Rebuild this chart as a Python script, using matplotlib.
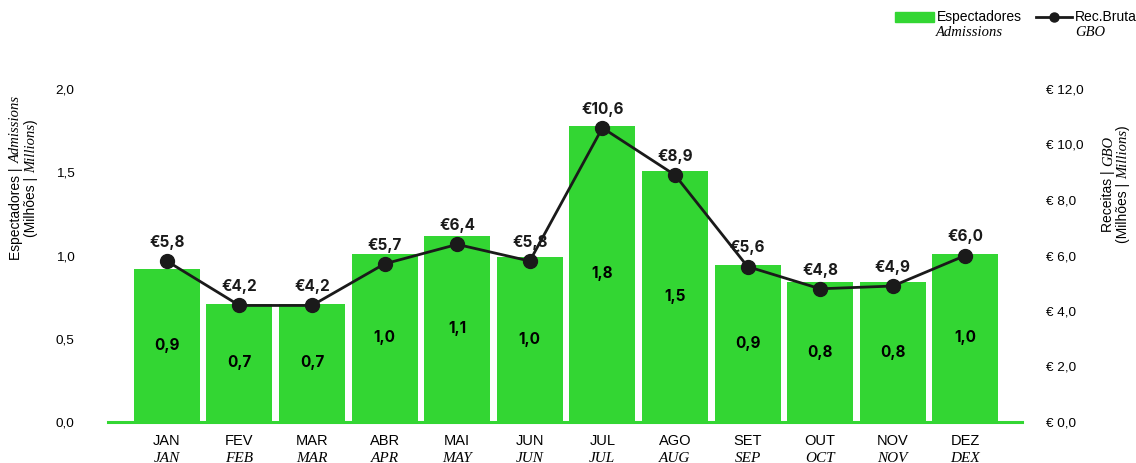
import matplotlib
matplotlib.use("Agg")
import matplotlib.pyplot as plt
from matplotlib.lines import Line2D
from matplotlib.patches import Rectangle
from matplotlib.ticker import FuncFormatter
import matplotlib.transforms as mtransforms

months_pt = ["JAN", "FEV", "MAR", "ABR", "MAI", "JUN", "JUL", "AGO", "SET", "OUT", "NOV", "DEZ"]
months_en = ["JAN", "FEB", "MAR", "APR", "MAY", "JUN", "JUL", "AUG", "SEP", "OCT", "NOV", "DEX"]
admissions = [0.92, 0.71, 0.71, 1.01, 1.12, 0.99, 1.78, 1.51, 0.94, 0.84, 0.84, 1.01]
adm_labels = ["0,9", "0,7", "0,7", "1,0", "1,1", "1,0", "1,8", "1,5", "0,9", "0,8", "0,8", "1,0"]
gbo = [5.8, 4.2, 4.2, 5.7, 6.4, 5.8, 10.6, 8.9, 5.6, 4.8, 4.9, 6.0]

GREEN = "#33d633"
DARK = "#1a1a1a"
SANS = "Liberation Sans"
BOLD = "Inter"
SERIF = "Liberation Serif"

W, H = 1136, 463
fig = plt.figure(figsize=(W / 100, H / 100), dpi=100)
ax = fig.add_axes([108 / W, 1 - 422 / H, (1022 - 108) / W, (422 - 89) / H])
ax2 = ax.twinx()

x = list(range(len(months_pt)))
ax.bar(x, admissions, width=0.91, color=GREEN, zorder=2)
ax.axhline(0, color=GREEN, lw=2.2, zorder=3, clip_on=False)
ax.set_xlim(-0.81, 11.78)
ax.set_ylim(0, 2.0)
ax.set_yticks([0, 0.5, 1.0, 1.5, 2.0])
ax.yaxis.set_major_formatter(FuncFormatter(lambda v, p: f"{v:.1f}".replace(".", ",")))
ax.set_xticks([])

for xi, v, lab in zip(x, admissions, adm_labels):
    ax.text(xi, v / 2, lab, ha="center", va="center", fontsize=11,
            fontfamily=BOLD, fontweight="bold", color="black", zorder=4)

trans = mtransforms.blended_transform_factory(ax.transData, ax.transAxes)
for xi, pt, en in zip(x, months_pt, months_en):
    ax.text(xi, -0.058, pt, transform=trans, ha="center", va="center",
            fontsize=10.5, fontfamily=SANS, color="black")
    ax.text(xi, -0.110, en, transform=trans, ha="center", va="center",
            fontsize=11, fontfamily=SERIF, style="italic", color="black")

ax2.plot(x, gbo, color=DARK, lw=2, marker="o", markersize=10, zorder=5)
ax2.set_ylim(0, 12)
ax2.set_yticks(range(0, 13, 2))
ax2.yaxis.set_major_formatter(FuncFormatter(lambda v, p: f"€ {v:.1f}".replace(".", ",")))
for xi, v in zip(x, gbo):
    ax2.annotate(f"€{v:.1f}".replace(".", ","), (xi, v), xytext=(0, 13.5),
                 textcoords="offset points", ha="center", va="center",
                 fontsize=11, fontfamily=BOLD, fontweight="bold", color=DARK)

for a in (ax, ax2):
    for s in a.spines.values():
        s.set_visible(False)
    a.tick_params(length=0, labelsize=9.7)
    for t in a.get_yticklabels():
        t.set_fontfamily(SANS)
ax.tick_params(axis="y", pad=24)
ax2.tick_params(axis="y", pad=17)
ax.set_zorder(1)
ax2.set_zorder(2)
ax2.patch.set_visible(False)


def vertical_label(xpix, ycenter, parts):
    # parts: list of (text, family, style); stacked upward along a shared baseline
    renderer = fig.canvas.get_renderer()
    arts = []
    for txt, fam, sty in parts:
        t = fig.text(xpix / W, 0, txt, rotation=90, ha="left", va="baseline",
                     rotation_mode="anchor",
                     fontsize=10 if sty == "normal" else 10.5, fontfamily=fam,
                     style=sty, color="black")
        arts.append(t)
    heights = [a.get_window_extent(renderer).height for a in arts]
    total = sum(heights)
    y = (H - ycenter) - total / 2
    for a, h in zip(arts, heights):
        a.set_position((xpix / W, y / H))
        y += h


vertical_label(20, 178, [("Espectadores | ", SANS, "normal"), ("Admissions", SERIF, "italic")])
vertical_label(35, 178, [("(Milhões | ", SANS, "normal"), ("Millions", SERIF, "italic"), (")", SANS, "normal")])
vertical_label(1112, 184, [("Receitas | ", SANS, "normal"), ("GBO", SERIF, "italic")])
vertical_label(1127, 184, [("(Milhões | ", SANS, "normal"), ("Millions", SERIF, "italic"), (")", SANS, "normal")])

# legend
fig.patches.append(Rectangle((895 / W, 1 - 22 / H), 39 / W, 10 / H,
                             transform=fig.transFigure, color=GREEN))
fig.text(937 / W, 1 - 17 / H, "Espectadores", ha="left", va="center",
         fontsize=10, fontfamily=SANS)
fig.text(936 / W, 1 - 33 / H, "Admissions", ha="left", va="center",
         fontsize=10.5, fontfamily=SERIF, style="italic")
fig.lines.append(Line2D([1036 / W, 1072 / W], [1 - 17 / H, 1 - 17 / H],
                        transform=fig.transFigure, color=DARK, lw=2))
fig.lines.append(Line2D([1054 / W], [1 - 17 / H], transform=fig.transFigure,
                        color=DARK, marker="o", markersize=6.5))
fig.text(1075 / W, 1 - 17 / H, "Rec.Bruta", ha="left", va="center",
         fontsize=10, fontfamily=SANS)
fig.text(1075 / W, 1 - 33 / H, "GBO", ha="left", va="center",
         fontsize=10.5, fontfamily=SERIF, style="italic")

fig.savefig("out.png", dpi=100)
